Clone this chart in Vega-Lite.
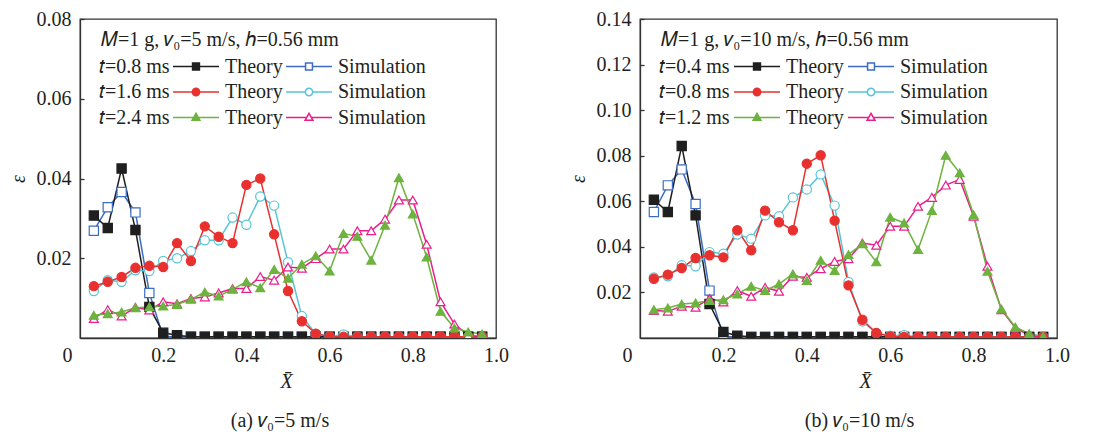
{
"$schema":"https://vega.github.io/schema/vega-lite/v6.json",
"padding":{"left":7,"top":8,"right":5,"bottom":5},
"config":{
 "font":"Liberation Serif",
 "style":{"guide-label":{"font":"Liberation Serif"},"guide-title":{"font":"Liberation Serif"}},
 "view":{"stroke":"#333333","strokeWidth":1.3},
 "axis":{"labelFont":"Liberation Serif","labelFontSize":20,"labelColor":"#231f20","titleFont":"Liberation Serif","titleFontSize":20,"titleFontWeight":"normal","titleColor":"#231f20","domainColor":"#333333","domainWidth":1.3,"tickColor":"#333333","tickWidth":1.3,"grid":false},
 "title":{"font":"Liberation Serif","fontSize":20,"fontWeight":"normal","color":"#231f20"},
 "legend":{"orient":"none","columns":3,"symbolSize":2116,"symbolStrokeWidth":1.5,"symbolOpacity":1,"labelFont":"Liberation Serif","labelFontSize":20,"labelColor":"#231f20","labelOffset":5,"labelLimit":300,"rowPadding":0.5,"clipHeight":25,"titleFont":"Liberation Serif","titleFontSize":20,"titleFontWeight":"normal","titleColor":"#231f20","titlePadding":4,"titleLimit":1000,"padding":0}
},
"spacing":57,
"resolve":{"scale":{"x":"independent","y":"independent","fill":"independent","stroke":"independent","shape":"independent"},"legend":{"fill":"independent","stroke":"independent","shape":"independent"}},
"hconcat":[
{
 "width":416,"height":319,
 "title":{"text":"(a) 𝑣₀=5 m/s","orient":"bottom","offset":20,"dx":-8},
 "data":{"values":[
{"s":"S1","x":0.0333,"e":0.0269},{"s":"S1","x":0.0667,"e":0.0328},{"s":"S1","x":0.1,"e":0.0366},{"s":"S1","x":0.1333,"e":0.0315},{"s":"S1","x":0.1667,"e":0.0113},{"s":"S1","x":0.2,"e":0.0003},{"s":"S1","x":0.2333,"e":0.0003},{"s":"S1","x":0.2667,"e":0.0003},{"s":"S1","x":0.3,"e":0.0003},{"s":"S1","x":0.3333,"e":0.0003},{"s":"S1","x":0.3667,"e":0.0003},{"s":"S1","x":0.4,"e":0.0003},{"s":"S1","x":0.4333,"e":0.0003},{"s":"S1","x":0.4667,"e":0.0003},{"s":"S1","x":0.5,"e":0.0003},{"s":"S1","x":0.5333,"e":0.0003},{"s":"S1","x":0.5667,"e":0.0003},{"s":"S1","x":0.6,"e":0.0003},{"s":"S1","x":0.6333,"e":0.0003},{"s":"S1","x":0.6667,"e":0.0003},{"s":"S1","x":0.7,"e":0.0003},{"s":"S1","x":0.7333,"e":0.0003},{"s":"S1","x":0.7667,"e":0.0003},{"s":"S1","x":0.8,"e":0.0003},{"s":"S1","x":0.8333,"e":0.0003},{"s":"S1","x":0.8667,"e":0.0003},{"s":"S1","x":0.9,"e":0.0003},{"s":"S1","x":0.9333,"e":0.0003},{"s":"S1","x":0.9667,"e":0.0003},
{"s":"T1","x":0.0333,"e":0.0307},{"s":"T1","x":0.0667,"e":0.0276},{"s":"T1","x":0.1,"e":0.0425},{"s":"T1","x":0.1333,"e":0.0271},{"s":"T1","x":0.1667,"e":0.0078},{"s":"T1","x":0.2,"e":0.0013},{"s":"T1","x":0.2333,"e":0.0007},{"s":"T1","x":0.2667,"e":0.0003},{"s":"T1","x":0.3,"e":0.0003},{"s":"T1","x":0.3333,"e":0.0003},{"s":"T1","x":0.3667,"e":0.0003},{"s":"T1","x":0.4,"e":0.0003},{"s":"T1","x":0.4333,"e":0.0003},{"s":"T1","x":0.4667,"e":0.0003},{"s":"T1","x":0.5,"e":0.0003},{"s":"T1","x":0.5333,"e":0.0003},{"s":"T1","x":0.5667,"e":0.0003},{"s":"T1","x":0.6,"e":0.0003},{"s":"T1","x":0.6333,"e":0.0003},{"s":"T1","x":0.6667,"e":0.0003},{"s":"T1","x":0.7,"e":0.0003},{"s":"T1","x":0.7333,"e":0.0003},{"s":"T1","x":0.7667,"e":0.0003},{"s":"T1","x":0.8,"e":0.0003},{"s":"T1","x":0.8333,"e":0.0003},{"s":"T1","x":0.8667,"e":0.0003},{"s":"T1","x":0.9,"e":0.0003},{"s":"T1","x":0.9333,"e":0.0003},{"s":"T1","x":0.9667,"e":0.0003},
{"s":"S2","x":0.0333,"e":0.0118},{"s":"S2","x":0.0667,"e":0.0145},{"s":"S2","x":0.1,"e":0.0141},{"s":"S2","x":0.1333,"e":0.017},{"s":"S2","x":0.1667,"e":0.0168},{"s":"S2","x":0.2,"e":0.0193},{"s":"S2","x":0.2333,"e":0.02},{"s":"S2","x":0.2667,"e":0.0218},{"s":"S2","x":0.3,"e":0.0245},{"s":"S2","x":0.3333,"e":0.0245},{"s":"S2","x":0.3667,"e":0.0302},{"s":"S2","x":0.4,"e":0.0284},{"s":"S2","x":0.4333,"e":0.0355},{"s":"S2","x":0.4667,"e":0.0332},{"s":"S2","x":0.5,"e":0.019},{"s":"S2","x":0.5333,"e":0.0055},{"s":"S2","x":0.5667,"e":0.001},{"s":"S2","x":0.6,"e":0.0004},{"s":"S2","x":0.6333,"e":0.0009},{"s":"S2","x":0.6667,"e":0.0003},{"s":"S2","x":0.7,"e":0.0003},{"s":"S2","x":0.7333,"e":0.0003},{"s":"S2","x":0.7667,"e":0.0003},{"s":"S2","x":0.8,"e":0.0003},{"s":"S2","x":0.8333,"e":0.0003},{"s":"S2","x":0.8667,"e":0.0003},{"s":"S2","x":0.9,"e":0.0003},{"s":"S2","x":0.9333,"e":0.0003},{"s":"S2","x":0.9667,"e":0.0003},
{"s":"T2","x":0.0333,"e":0.013},{"s":"T2","x":0.0667,"e":0.0141},{"s":"T2","x":0.1,"e":0.0153},{"s":"T2","x":0.1333,"e":0.0176},{"s":"T2","x":0.1667,"e":0.0181},{"s":"T2","x":0.2,"e":0.0178},{"s":"T2","x":0.2333,"e":0.0238},{"s":"T2","x":0.2667,"e":0.0193},{"s":"T2","x":0.3,"e":0.028},{"s":"T2","x":0.3333,"e":0.0254},{"s":"T2","x":0.3667,"e":0.0238},{"s":"T2","x":0.4,"e":0.0384},{"s":"T2","x":0.4333,"e":0.04},{"s":"T2","x":0.4667,"e":0.026},{"s":"T2","x":0.5,"e":0.0118},{"s":"T2","x":0.5333,"e":0.0042},{"s":"T2","x":0.5667,"e":0.0011},{"s":"T2","x":0.6,"e":0.0004},{"s":"T2","x":0.6333,"e":0.0003},{"s":"T2","x":0.6667,"e":0.0003},{"s":"T2","x":0.7,"e":0.0003},{"s":"T2","x":0.7333,"e":0.0003},{"s":"T2","x":0.7667,"e":0.0003},{"s":"T2","x":0.8,"e":0.0003},{"s":"T2","x":0.8333,"e":0.0003},{"s":"T2","x":0.8667,"e":0.0003},{"s":"T2","x":0.9,"e":0.0003},{"s":"T2","x":0.9333,"e":0.0003},{"s":"T2","x":0.9667,"e":0.0003},
{"s":"S3","x":0.0333,"e":0.0049},{"s":"S3","x":0.0667,"e":0.0071},{"s":"S3","x":0.1,"e":0.0055},{"s":"S3","x":0.1333,"e":0.0077},{"s":"S3","x":0.1667,"e":0.007},{"s":"S3","x":0.2,"e":0.0091},{"s":"S3","x":0.2333,"e":0.0086},{"s":"S3","x":0.2667,"e":0.0099},{"s":"S3","x":0.3,"e":0.0103},{"s":"S3","x":0.3333,"e":0.0113},{"s":"S3","x":0.3667,"e":0.0124},{"s":"S3","x":0.4,"e":0.0124},{"s":"S3","x":0.4333,"e":0.0154},{"s":"S3","x":0.4667,"e":0.0145},{"s":"S3","x":0.5,"e":0.0178},{"s":"S3","x":0.5333,"e":0.0175},{"s":"S3","x":0.5667,"e":0.0199},{"s":"S3","x":0.6,"e":0.0223},{"s":"S3","x":0.6333,"e":0.0223},{"s":"S3","x":0.6667,"e":0.0269},{"s":"S3","x":0.7,"e":0.0269},{"s":"S3","x":0.7333,"e":0.0298},{"s":"S3","x":0.7667,"e":0.0346},{"s":"S3","x":0.8,"e":0.0346},{"s":"S3","x":0.8333,"e":0.0235},{"s":"S3","x":0.8667,"e":0.0091},{"s":"S3","x":0.9,"e":0.0035},{"s":"S3","x":0.9333,"e":0.0007},{"s":"S3","x":0.9667,"e":0.0003},
{"s":"T3","x":0.0333,"e":0.0057},{"s":"T3","x":0.0667,"e":0.0061},{"s":"T3","x":0.1,"e":0.0065},{"s":"T3","x":0.1333,"e":0.0076},{"s":"T3","x":0.1667,"e":0.0078},{"s":"T3","x":0.2,"e":0.008},{"s":"T3","x":0.2333,"e":0.0084},{"s":"T3","x":0.2667,"e":0.0097},{"s":"T3","x":0.3,"e":0.0115},{"s":"T3","x":0.3333,"e":0.0105},{"s":"T3","x":0.3667,"e":0.0122},{"s":"T3","x":0.4,"e":0.0141},{"s":"T3","x":0.4333,"e":0.0126},{"s":"T3","x":0.4667,"e":0.0172},{"s":"T3","x":0.5,"e":0.015},{"s":"T3","x":0.5333,"e":0.0185},{"s":"T3","x":0.5667,"e":0.0206},{"s":"T3","x":0.6,"e":0.0168},{"s":"T3","x":0.6333,"e":0.0262},{"s":"T3","x":0.6667,"e":0.0255},{"s":"T3","x":0.7,"e":0.0195},{"s":"T3","x":0.7333,"e":0.0283},{"s":"T3","x":0.7667,"e":0.0402},{"s":"T3","x":0.8,"e":0.0311},{"s":"T3","x":0.8333,"e":0.0203},{"s":"T3","x":0.8667,"e":0.0067},{"s":"T3","x":0.9,"e":0.0025},{"s":"T3","x":0.9333,"e":0.0015},{"s":"T3","x":0.9667,"e":0.001}
 ]},
 "layer":[
  {"mark":{"type":"line","strokeWidth":1.5,"clip":true},
   "encoding":{
    "x":{"field":"x","type":"quantitative","scale":{"domain":[0,1],"nice":false,"zero":false},
      "axis":{"title":"X̄","titleFontStyle":"italic","values":[0,0.2,0.4,0.6,0.8,1],"labelExpr":"datum.value==0?'0':format(datum.value,'.1f')","ticks":false,"labelPadding":7,"labelFlush":false,"labelOffset":{"condition":{"test":"datum.value==0","value":-13},"value":0},"titlePadding":6,"titleX":206}},
    "y":{"field":"e","type":"quantitative","scale":{"domain":[0,0.08],"nice":false},
      "axis":{"title":"ε","titleFontStyle":"italic","values":[0.02,0.04,0.06,0.08],"format":".2f","tickSize":-4,"labelPadding":13,"titlePadding":8}},
    "stroke":{"field":"s","type":"nominal",
      "scale":{"domain":["L1","L2","L3","T1","T2","T3","S1","S2","S3"],"range":["transparent","transparent","transparent","#1f1f1f","#e8312f","#6db33f","#3b6cc1","#57c5d6","#ec1c8c"]},
      "legend":{"title":"\u200b\u00a0\u00a0\u00a0\u00a0\u00a0\u00a0\u00a0\u00a0\u00a0\u00a0\u00a0𝑀=1 g, 𝑣₀=5 m/s, ℎ=0.56 mm","legendX":-34,"legendY":11,"columnPadding":2,
        "labelExpr":"datum.value=='L1'?'𝑡=0.8 ms':datum.value=='L2'?'𝑡=1.6 ms':datum.value=='L3'?'𝑡=2.4 ms':datum.value[0]=='T'?'Theory ':'Simulation'"}}
   }},
  {"transform":[{"filter":"datum.s[1]=='1'"}],
   "mark":{"type":"point","shape":"square","filled":true,"size":85,"strokeWidth":1.2,"opacity":1,"clip":true},
   "encoding":{"x":{"field":"x","type":"quantitative"},"y":{"field":"e","type":"quantitative"},
    "fill":{"field":"s","type":"nominal","scale":{"domain":["L1","L2","L3","T1","T2","T3","S1","S2","S3"],"range":["transparent","transparent","transparent","#1f1f1f","#e8312f","#6db33f","#ffffff","#ffffff","#ffffff"]}},
    "stroke":{"field":"s","type":"nominal"}}},
  {"transform":[{"filter":"datum.s[1]=='2'"}],
   "mark":{"type":"point","shape":"circle","filled":true,"size":85,"strokeWidth":1.2,"opacity":1,"clip":true},
   "encoding":{"x":{"field":"x","type":"quantitative"},"y":{"field":"e","type":"quantitative"},
    "fill":{"field":"s","type":"nominal"},"stroke":{"field":"s","type":"nominal"}}},
  {"transform":[{"filter":"datum.s[1]=='3'"}],
   "mark":{"type":"point","shape":"triangle-up","filled":true,"size":80,"strokeWidth":1.2,"opacity":1,"clip":true},
   "encoding":{"x":{"field":"x","type":"quantitative"},"y":{"field":"e","type":"quantitative"},
    "fill":{"field":"s","type":"nominal"},"stroke":{"field":"s","type":"nominal"}}},
  {"mark":{"type":"point","filled":true,"strokeWidth":1.5,"opacity":0,"clip":true},
   "encoding":{"x":{"field":"x","type":"quantitative"},"y":{"field":"e","type":"quantitative"},
    "fill":{"field":"s","type":"nominal"},"stroke":{"field":"s","type":"nominal"},
    "shape":{"field":"s","type":"nominal","scale":{"domain":["L1","L2","L3","T1","T2","T3","S1","S2","S3"],"range":["M0,0H0.01","M0,0H0.01","M0,0H0.01","M-1,0H-0.15M0.15,0H1M-0.15,-0.15H0.15V0.15H-0.15Z","M-1,0H-0.16M0.16,0H1M-0.16,0A0.16,0.16,0,1,1,0.16,0A0.16,0.16,0,1,1,-0.16,0Z","M-1,0H-0.1M0.1,0H1M0,-0.18L0.17,0.12H-0.17Z","M-1,0H-0.15M0.15,0H1M-0.15,-0.15H0.15V0.15H-0.15Z","M-1,0H-0.16M0.16,0H1M-0.16,0A0.16,0.16,0,1,1,0.16,0A0.16,0.16,0,1,1,-0.16,0Z","M-1,0H-0.1M0.1,0H1M0,-0.18L0.17,0.12H-0.17Z"]}}}}
 ]
},
{
 "width":417,"height":319,
 "title":{"text":"(b) 𝑣₀=10 m/s","orient":"bottom","offset":20,"dx":11},
 "data":{"values":[
{"s":"S1","x":0.0333,"e":0.0553},{"s":"S1","x":0.0667,"e":0.067},{"s":"S1","x":0.1,"e":0.074},{"s":"S1","x":0.1333,"e":0.0588},{"s":"S1","x":0.1667,"e":0.0208},{"s":"S1","x":0.2,"e":0.0005},{"s":"S1","x":0.2333,"e":0.0005},{"s":"S1","x":0.2667,"e":0.0005},{"s":"S1","x":0.3,"e":0.0005},{"s":"S1","x":0.3333,"e":0.0005},{"s":"S1","x":0.3667,"e":0.0005},{"s":"S1","x":0.4,"e":0.0005},{"s":"S1","x":0.4333,"e":0.0005},{"s":"S1","x":0.4667,"e":0.0005},{"s":"S1","x":0.5,"e":0.0005},{"s":"S1","x":0.5333,"e":0.0005},{"s":"S1","x":0.5667,"e":0.0005},{"s":"S1","x":0.6,"e":0.0005},{"s":"S1","x":0.6333,"e":0.0005},{"s":"S1","x":0.6667,"e":0.0005},{"s":"S1","x":0.7,"e":0.0005},{"s":"S1","x":0.7333,"e":0.0005},{"s":"S1","x":0.7667,"e":0.0005},{"s":"S1","x":0.8,"e":0.0005},{"s":"S1","x":0.8333,"e":0.0005},{"s":"S1","x":0.8667,"e":0.0005},{"s":"S1","x":0.9,"e":0.0005},{"s":"S1","x":0.9333,"e":0.0005},{"s":"S1","x":0.9667,"e":0.0005},
{"s":"T1","x":0.0333,"e":0.0607},{"s":"T1","x":0.0667,"e":0.0553},{"s":"T1","x":0.1,"e":0.0843},{"s":"T1","x":0.1333,"e":0.0538},{"s":"T1","x":0.1667,"e":0.0149},{"s":"T1","x":0.2,"e":0.0026},{"s":"T1","x":0.2333,"e":0.001},{"s":"T1","x":0.2667,"e":0.0005},{"s":"T1","x":0.3,"e":0.0005},{"s":"T1","x":0.3333,"e":0.0005},{"s":"T1","x":0.3667,"e":0.0005},{"s":"T1","x":0.4,"e":0.0005},{"s":"T1","x":0.4333,"e":0.0005},{"s":"T1","x":0.4667,"e":0.0005},{"s":"T1","x":0.5,"e":0.0005},{"s":"T1","x":0.5333,"e":0.0005},{"s":"T1","x":0.5667,"e":0.0005},{"s":"T1","x":0.6,"e":0.0005},{"s":"T1","x":0.6333,"e":0.0005},{"s":"T1","x":0.6667,"e":0.0005},{"s":"T1","x":0.7,"e":0.0005},{"s":"T1","x":0.7333,"e":0.0005},{"s":"T1","x":0.7667,"e":0.0005},{"s":"T1","x":0.8,"e":0.0005},{"s":"T1","x":0.8333,"e":0.0005},{"s":"T1","x":0.8667,"e":0.0005},{"s":"T1","x":0.9,"e":0.0005},{"s":"T1","x":0.9333,"e":0.0005},{"s":"T1","x":0.9667,"e":0.0005},
{"s":"S2","x":0.0333,"e":0.0266},{"s":"S2","x":0.0667,"e":0.0271},{"s":"S2","x":0.1,"e":0.0319},{"s":"S2","x":0.1333,"e":0.0315},{"s":"S2","x":0.1667,"e":0.0377},{"s":"S2","x":0.2,"e":0.037},{"s":"S2","x":0.2333,"e":0.0454},{"s":"S2","x":0.2667,"e":0.0436},{"s":"S2","x":0.3,"e":0.0538},{"s":"S2","x":0.3333,"e":0.0534},{"s":"S2","x":0.3667,"e":0.0617},{"s":"S2","x":0.4,"e":0.0652},{"s":"S2","x":0.4333,"e":0.0718},{"s":"S2","x":0.4667,"e":0.0581},{"s":"S2","x":0.5,"e":0.0246},{"s":"S2","x":0.5333,"e":0.0073},{"s":"S2","x":0.5667,"e":0.0022},{"s":"S2","x":0.6,"e":0.001},{"s":"S2","x":0.6333,"e":0.0012},{"s":"S2","x":0.6667,"e":0.0005},{"s":"S2","x":0.7,"e":0.0005},{"s":"S2","x":0.7333,"e":0.0005},{"s":"S2","x":0.7667,"e":0.0005},{"s":"S2","x":0.8,"e":0.0005},{"s":"S2","x":0.8333,"e":0.0005},{"s":"S2","x":0.8667,"e":0.0005},{"s":"S2","x":0.9,"e":0.0005},{"s":"S2","x":0.9333,"e":0.0005},{"s":"S2","x":0.9667,"e":0.0005},
{"s":"T2","x":0.0333,"e":0.026},{"s":"T2","x":0.0667,"e":0.0278},{"s":"T2","x":0.1,"e":0.0307},{"s":"T2","x":0.1333,"e":0.0351},{"s":"T2","x":0.1667,"e":0.0363},{"s":"T2","x":0.2,"e":0.0354},{"s":"T2","x":0.2333,"e":0.0473},{"s":"T2","x":0.2667,"e":0.0385},{"s":"T2","x":0.3,"e":0.0559},{"s":"T2","x":0.3333,"e":0.0508},{"s":"T2","x":0.3667,"e":0.0473},{"s":"T2","x":0.4,"e":0.0765},{"s":"T2","x":0.4333,"e":0.0802},{"s":"T2","x":0.4667,"e":0.0515},{"s":"T2","x":0.5,"e":0.0231},{"s":"T2","x":0.5333,"e":0.008},{"s":"T2","x":0.5667,"e":0.0022},{"s":"T2","x":0.6,"e":0.0007},{"s":"T2","x":0.6333,"e":0.0005},{"s":"T2","x":0.6667,"e":0.0005},{"s":"T2","x":0.7,"e":0.0005},{"s":"T2","x":0.7333,"e":0.0005},{"s":"T2","x":0.7667,"e":0.0005},{"s":"T2","x":0.8,"e":0.0005},{"s":"T2","x":0.8333,"e":0.0005},{"s":"T2","x":0.8667,"e":0.0005},{"s":"T2","x":0.9,"e":0.0005},{"s":"T2","x":0.9333,"e":0.0005},{"s":"T2","x":0.9667,"e":0.0005},
{"s":"S3","x":0.0333,"e":0.0121},{"s":"S3","x":0.0667,"e":0.0117},{"s":"S3","x":0.1,"e":0.0139},{"s":"S3","x":0.1333,"e":0.0135},{"s":"S3","x":0.1667,"e":0.0173},{"s":"S3","x":0.2,"e":0.0158},{"s":"S3","x":0.2333,"e":0.0208},{"s":"S3","x":0.2667,"e":0.0183},{"s":"S3","x":0.3,"e":0.0222},{"s":"S3","x":0.3333,"e":0.0205},{"s":"S3","x":0.3667,"e":0.0271},{"s":"S3","x":0.4,"e":0.0266},{"s":"S3","x":0.4333,"e":0.0304},{"s":"S3","x":0.4667,"e":0.0336},{"s":"S3","x":0.5,"e":0.0348},{"s":"S3","x":0.5333,"e":0.0417},{"s":"S3","x":0.5667,"e":0.0407},{"s":"S3","x":0.6,"e":0.049},{"s":"S3","x":0.6333,"e":0.049},{"s":"S3","x":0.6667,"e":0.0578},{"s":"S3","x":0.7,"e":0.0617},{"s":"S3","x":0.7333,"e":0.0671},{"s":"S3","x":0.7667,"e":0.0696},{"s":"S3","x":0.8,"e":0.0534},{"s":"S3","x":0.8333,"e":0.0315},{"s":"S3","x":0.8667,"e":0.0124},{"s":"S3","x":0.9,"e":0.0044},{"s":"S3","x":0.9333,"e":0.0012},{"s":"S3","x":0.9667,"e":0.0004},
{"s":"T3","x":0.0333,"e":0.0124},{"s":"T3","x":0.0667,"e":0.0132},{"s":"T3","x":0.1,"e":0.0149},{"s":"T3","x":0.1333,"e":0.0154},{"s":"T3","x":0.1667,"e":0.0164},{"s":"T3","x":0.2,"e":0.0168},{"s":"T3","x":0.2333,"e":0.0193},{"s":"T3","x":0.2667,"e":0.0227},{"s":"T3","x":0.3,"e":0.0208},{"s":"T3","x":0.3333,"e":0.0237},{"s":"T3","x":0.3667,"e":0.0281},{"s":"T3","x":0.4,"e":0.0252},{"s":"T3","x":0.4333,"e":0.0341},{"s":"T3","x":0.4667,"e":0.0296},{"s":"T3","x":0.5,"e":0.0366},{"s":"T3","x":0.5333,"e":0.0413},{"s":"T3","x":0.5667,"e":0.0334},{"s":"T3","x":0.6,"e":0.053},{"s":"T3","x":0.6333,"e":0.0505},{"s":"T3","x":0.6667,"e":0.0388},{"s":"T3","x":0.7,"e":0.0559},{"s":"T3","x":0.7333,"e":0.0802},{"s":"T3","x":0.7667,"e":0.0725},{"s":"T3","x":0.8,"e":0.0541},{"s":"T3","x":0.8333,"e":0.0293},{"s":"T3","x":0.8667,"e":0.0127},{"s":"T3","x":0.9,"e":0.0048},{"s":"T3","x":0.9333,"e":0.0019},{"s":"T3","x":0.9667,"e":0.0007}
 ]},
 "layer":[
  {"mark":{"type":"line","strokeWidth":1.5,"clip":true},
   "encoding":{
    "x":{"field":"x","type":"quantitative","scale":{"domain":[0,1],"nice":false,"zero":false},
      "axis":{"title":"X̄","titleFontStyle":"italic","values":[0,0.2,0.4,0.6,0.8,1],"labelExpr":"datum.value==0?'0':format(datum.value,'.1f')","ticks":false,"labelPadding":7,"labelFlush":false,"labelOffset":{"condition":{"test":"datum.value==0","value":-13},"value":0},"titlePadding":6,"titleX":225}},
    "y":{"field":"e","type":"quantitative","scale":{"domain":[0,0.14],"nice":false},
      "axis":{"title":"ε","titleFontStyle":"italic","values":[0.02,0.04,0.06,0.08,0.1,0.12,0.14],"format":".2f","tickSize":-4,"labelPadding":13,"titlePadding":8}},
    "stroke":{"field":"s","type":"nominal",
      "scale":{"domain":["L1","L2","L3","T1","T2","T3","S1","S2","S3"],"range":["transparent","transparent","transparent","#1f1f1f","#e8312f","#6db33f","#3b6cc1","#57c5d6","#ec1c8c"]},
      "legend":{"title":"\u200b\u00a0\u00a0\u00a0\u00a0\u00a0\u00a0\u00a0\u00a0\u00a0\u00a0\u00a0𝑀=1 g, 𝑣₀=10 m/s, ℎ=0.56 mm","legendX":-34,"legendY":11,"columnPadding":3,
        "labelExpr":"datum.value=='L1'?'𝑡=0.4 ms ':datum.value=='L2'?'𝑡=0.8 ms ':datum.value=='L3'?'𝑡=1.2 ms ':datum.value[0]=='T'?'Theory':'Simulation'"}}
   }},
  {"transform":[{"filter":"datum.s[1]=='1'"}],
   "mark":{"type":"point","shape":"square","filled":true,"size":85,"strokeWidth":1.2,"opacity":1,"clip":true},
   "encoding":{"x":{"field":"x","type":"quantitative"},"y":{"field":"e","type":"quantitative"},
    "fill":{"field":"s","type":"nominal","scale":{"domain":["L1","L2","L3","T1","T2","T3","S1","S2","S3"],"range":["transparent","transparent","transparent","#1f1f1f","#e8312f","#6db33f","#ffffff","#ffffff","#ffffff"]}},
    "stroke":{"field":"s","type":"nominal"}}},
  {"transform":[{"filter":"datum.s[1]=='2'"}],
   "mark":{"type":"point","shape":"circle","filled":true,"size":85,"strokeWidth":1.2,"opacity":1,"clip":true},
   "encoding":{"x":{"field":"x","type":"quantitative"},"y":{"field":"e","type":"quantitative"},
    "fill":{"field":"s","type":"nominal"},"stroke":{"field":"s","type":"nominal"}}},
  {"transform":[{"filter":"datum.s[1]=='3'"}],
   "mark":{"type":"point","shape":"triangle-up","filled":true,"size":80,"strokeWidth":1.2,"opacity":1,"clip":true},
   "encoding":{"x":{"field":"x","type":"quantitative"},"y":{"field":"e","type":"quantitative"},
    "fill":{"field":"s","type":"nominal"},"stroke":{"field":"s","type":"nominal"}}},
  {"mark":{"type":"point","filled":true,"strokeWidth":1.5,"opacity":0,"clip":true},
   "encoding":{"x":{"field":"x","type":"quantitative"},"y":{"field":"e","type":"quantitative"},
    "fill":{"field":"s","type":"nominal"},"stroke":{"field":"s","type":"nominal"},
    "shape":{"field":"s","type":"nominal","scale":{"domain":["L1","L2","L3","T1","T2","T3","S1","S2","S3"],"range":["M0,0H0.01","M0,0H0.01","M0,0H0.01","M-1,0H-0.15M0.15,0H1M-0.15,-0.15H0.15V0.15H-0.15Z","M-1,0H-0.16M0.16,0H1M-0.16,0A0.16,0.16,0,1,1,0.16,0A0.16,0.16,0,1,1,-0.16,0Z","M-1,0H-0.1M0.1,0H1M0,-0.18L0.17,0.12H-0.17Z","M-1,0H-0.15M0.15,0H1M-0.15,-0.15H0.15V0.15H-0.15Z","M-1,0H-0.16M0.16,0H1M-0.16,0A0.16,0.16,0,1,1,0.16,0A0.16,0.16,0,1,1,-0.16,0Z","M-1,0H-0.1M0.1,0H1M0,-0.18L0.17,0.12H-0.17Z"]}}}}
 ]
}
]
}
